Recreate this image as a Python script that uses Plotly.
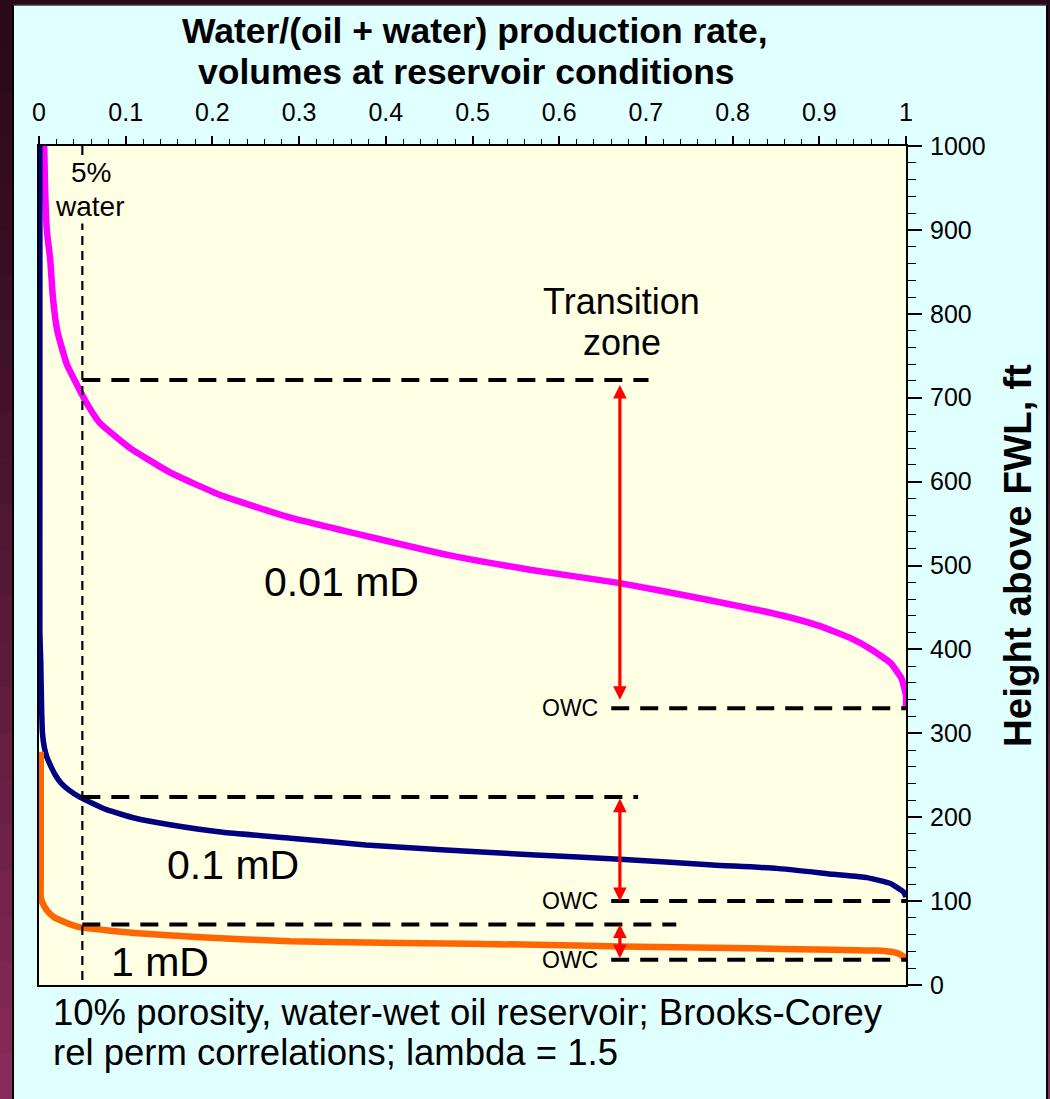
import plotly.graph_objects as go

# ---------------- data ----------------
# 0.01 mD curve: water cut vs height above FWL (ft)
k001_cut = [0.006, 0.007, 0.009, 0.013, 0.016, 0.021, 0.032, 0.047, 0.057, 0.070, 0.105, 0.151,
            0.209, 0.290, 0.382, 0.474, 0.566, 0.670, 0.762, 0.855, 0.900, 0.935, 0.960, 0.982,
            0.995, 1.0, 1.0]
k001_h = [1000, 950, 900, 864, 820, 780, 740, 709, 690, 670, 640, 611,
          584, 557, 534, 512, 495, 479, 461, 441, 428, 414, 400, 384,
          365, 345, 330]

# 0.1 mD curve
k01_cut = [0.001, 0.001, 0.001, 0.001, 0.002, 0.003, 0.004, 0.006, 0.009, 0.014, 0.019, 0.026,
           0.035, 0.047, 0.078, 0.110, 0.151, 0.212, 0.290, 0.377, 0.469, 0.573, 0.670, 0.777,
           0.851, 0.916, 0.955, 0.982, 0.997, 1.0]
k01_h = [1000, 800, 600, 420, 387, 330, 300, 284, 272, 260, 250, 240,
         232, 224, 209, 199, 191, 182, 175, 167, 161, 155, 150, 143,
         139, 132, 128, 121, 111, 105]

# 1 mD curve
k1_cut = [0.002, 0.002, 0.002, 0.002, 0.004, 0.009, 0.017, 0.032, 0.047, 0.110, 0.187, 0.290,
          0.419, 0.573, 0.670, 0.800, 0.916, 0.967, 0.990, 1.0]
k1_h = [278, 200, 130, 105, 98, 89, 81, 74, 69, 62, 57, 52,
        50, 48, 46, 44, 42, 41, 38, 32]

curve_labels = ["0.01 mD", "0.1 mD", "1 mD"]
curve_colors = ["#FF00FF", "#000080", "#FF6600"]

# transition-zone markers
zone_top_h = [721, 224, 72]          # height where water cut = 5%
zone_top_end = [0.703, 0.691, 0.735]  # right end of the top dashed line
owc_h = [330, 100, 30]               # oil-water contacts
owc_start = 0.660
arrow_x = 0.670
arrow_top = [717, 224, 74]
arrow_bot = [340, 100, 32]
five_pct = 0.05

x_ticks = [0, 0.1, 0.2, 0.3, 0.4, 0.5, 0.6, 0.7, 0.8, 0.9, 1]
y_ticks = [0, 100, 200, 300, 400, 500, 600, 700, 800, 900, 1000]

# ---------------- layout geometry ----------------
FIG_W, FIG_H = 1050, 1099
L, R, T, B = 39, 906, 146, 985
PW, PH = R - L, B - T


def px(xp):
    return (xp - L) / PW


def py(yp):
    return (B - yp) / PH


FONT = "Liberation Sans, Arial, sans-serif"
PLOT_BG = "#FFFFE3"
PANEL = "#E0FFFF"

fig = go.Figure()

# curves
for cut, h, col, w in [(k001_cut, k001_h, curve_colors[0], 6.5),
                       (k01_cut, k01_h, curve_colors[1], 5.5),
                       (k1_cut, k1_h, curve_colors[2], 6.5)]:
    fig.add_trace(go.Scatter(x=cut, y=h, mode="lines",
                             line=dict(color=col, width=w, shape="spline", smoothing=0.4),
                             hoverinfo="skip"))

# 5% water vertical dashed line
fig.add_trace(go.Scatter(x=[five_pct, five_pct], y=[1000, 0], mode="lines",
                         line=dict(color="black", width=2.2, dash="9px,6px"),
                         hoverinfo="skip"))

# dashed horizontal lines
for top, end, owc in zip(zone_top_h, zone_top_end, owc_h):
    fig.add_trace(go.Scatter(x=[five_pct, end], y=[top, top], mode="lines",
                             line=dict(color="black", width=4, dash="18px,11px"),
                             hoverinfo="skip"))
    fig.add_trace(go.Scatter(x=[owc_start, 1.0], y=[owc, owc], mode="lines",
                             line=dict(color="black", width=4, dash="18px,11px"),
                             hoverinfo="skip"))

annotations = []

# red double arrows
for top, bot in zip(arrow_top, arrow_bot):
    annotations.append(dict(x=arrow_x, y=bot, ax=arrow_x, ay=top, xref="x", yref="y",
                            axref="x", ayref="y", text="", showarrow=True,
                            arrowhead=2, startarrowhead=2, arrowside="end+start",
                            arrowsize=0.85, startarrowsize=0.85, arrowwidth=3.2,
                            arrowcolor="#FF0000", standoff=0, startstandoff=0))

# OWC labels
for h in owc_h:
    annotations.append(dict(x=0.647, y=h, xref="x", yref="y", text="OWC", showarrow=False,
                            xanchor="right", yanchor="middle",
                            font=dict(family=FONT, size=23, color="black")))

# curve labels
for lab, xx, yy in zip(curve_labels, [0.349, 0.224, 0.140], [480, 143, 27]):
    annotations.append(dict(x=xx, y=yy, xref="x", yref="y", text=lab, showarrow=False,
                            xanchor="center", yanchor="middle",
                            font=dict(family=FONT, size=41, color="black")))

# 5% water label
annotations.append(dict(x=0.060, y=969, xref="x", yref="y", text="5%", showarrow=False,
                        xanchor="center", yanchor="middle", bgcolor=PLOT_BG,
                        font=dict(family=FONT, size=28, color="black")))
annotations.append(dict(x=0.058, y=928, xref="x", yref="y", text="water", showarrow=False,
                        xanchor="center", yanchor="middle", bgcolor=PLOT_BG,
                        font=dict(family=FONT, size=28, color="black")))

# transition zone label
annotations.append(dict(x=0.672, y=815, xref="x", yref="y", text="Transition", showarrow=False,
                        xanchor="center", yanchor="middle",
                        font=dict(family=FONT, size=36, color="black")))
annotations.append(dict(x=0.672, y=766, xref="x", yref="y", text="zone", showarrow=False,
                        xanchor="center", yanchor="middle",
                        font=dict(family=FONT, size=36, color="black")))

# title lines
annotations.append(dict(x=px(475), y=py(31), xref="paper", yref="paper",
                        text="<b>Water/(oil + water) production rate,</b>", showarrow=False,
                        xanchor="center", yanchor="middle",
                        font=dict(family=FONT, size=35.5, color="black")))
annotations.append(dict(x=px(466), y=py(72), xref="paper", yref="paper",
                        text="<b>volumes at reservoir conditions</b>", showarrow=False,
                        xanchor="center", yanchor="middle",
                        font=dict(family=FONT, size=35.5, color="black")))

# y-axis title
annotations.append(dict(x=px(1017), y=py(556), xref="paper", yref="paper",
                        text="<b>Height above FWL, ft</b>", showarrow=False, textangle=-90,
                        xanchor="center", yanchor="middle",
                        font=dict(family=FONT, size=38.5, color="black")))

# bottom note
annotations.append(dict(x=px(51), y=py(1012), xref="paper", yref="paper",
                        text="10% porosity, water-wet oil reservoir; Brooks-Corey",
                        showarrow=False, xanchor="left", yanchor="middle",
                        font=dict(family=FONT, size=36.5, color="black")))
annotations.append(dict(x=px(51), y=py(1052), xref="paper", yref="paper",
                        text="rel perm correlations; lambda = 1.5",
                        showarrow=False, xanchor="left", yanchor="middle",
                        font=dict(family=FONT, size=36.5, color="black")))

# background frame shapes (maroon border around cyan panel)
shapes = []
dark = (42, 10, 24)
light = (140, 44, 92)
nb = 24
for i in range(nb):
    t = (i + 0.5) / nb
    c = tuple(int(dark[k] + (light[k] - dark[k]) * t ** 1.3) for k in range(3))
    col = "rgb(%d,%d,%d)" % c
    y0p = FIG_H * i / nb
    y1p = FIG_H * (i + 1) / nb + 1
    shapes.append(dict(type="rect", xref="paper", yref="paper", layer="below",
                       x0=px(-2), x1=px(14), y0=py(y1p), y1=py(y0p),
                       line=dict(width=0), fillcolor=col))
    shapes.append(dict(type="rect", xref="paper", yref="paper", layer="below",
                       x0=px(1047), x1=px(1052), y0=py(y1p), y1=py(y0p),
                       line=dict(width=0), fillcolor=col))
shapes.append(dict(type="rect", xref="paper", yref="paper", layer="below",
                   x0=px(-2), x1=px(1052), y0=py(5), y1=py(-2),
                   line=dict(width=0), fillcolor="rgb(42,10,24)"))
shapes.append(dict(type="line", xref="paper", yref="paper", layer="below",
                   x0=px(13), x1=px(13), y0=py(1100), y1=py(5),
                   line=dict(width=2, color="black")))
shapes.append(dict(type="line", xref="paper", yref="paper", layer="below",
                   x0=px(1047), x1=px(1047), y0=py(1100), y1=py(5),
                   line=dict(width=2, color="black")))
shapes.append(dict(type="line", xref="paper", yref="paper", layer="below",
                   x0=px(13), x1=px(1047), y0=py(5), y1=py(5),
                   line=dict(width=1.5, color="#333333")))

fig.update_layout(
    width=FIG_W, height=FIG_H,
    margin=dict(l=L, r=FIG_W - R, t=T, b=FIG_H - B, pad=0),
    paper_bgcolor=PANEL, plot_bgcolor=PLOT_BG,
    showlegend=False,
    annotations=annotations,
    shapes=shapes,
    xaxis=dict(side="top", range=[0, 1], tickvals=x_ticks, ticks="outside", ticklen=8,
               tickwidth=1.5, tickcolor="black", showline=True, linecolor="black",
               linewidth=2, mirror=True, showgrid=False, zeroline=False,
               ticklabelstandoff=5,
               tickfont=dict(family=FONT, size=25, color="black"),
               minor=dict(dtick=0.02, ticks="outside", ticklen=5, tickwidth=1.2,
                          tickcolor="black", showgrid=False)),
    yaxis=dict(side="right", range=[0, 1000], tickvals=y_ticks, ticks="outside", ticklen=14,
               tickwidth=1.5, tickcolor="black", showline=True, linecolor="black",
               linewidth=2, mirror=True, showgrid=False, zeroline=False,
               ticklabelstandoff=3,
               tickfont=dict(family=FONT, size=25, color="black"),
               minor=dict(dtick=20, ticks="outside", ticklen=8, tickwidth=1.2,
                          tickcolor="black", showgrid=False)),
)

fig.write_html("out.html")
